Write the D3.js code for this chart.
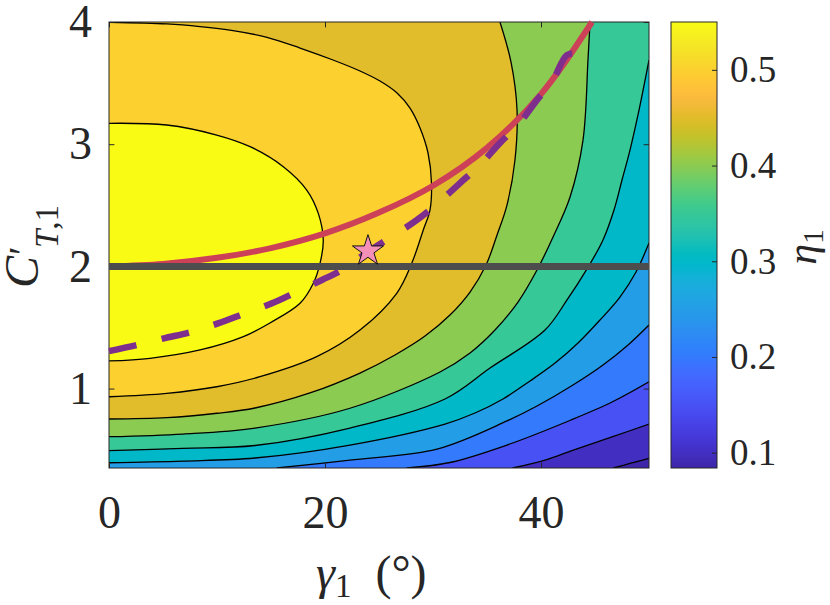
<!DOCTYPE html>
<html>
<head>
<meta charset="utf-8">
<script src="https://cdn.jsdelivr.net/npm/d3@7"></script>
<style>
  html, body { margin: 0; padding: 0; background: #fff; }
</style>
</head>
<body>
<div id="chart"></div>
<script>
// ---- values ----
const gammaDomain = [0, 50];         // γ1 (deg)
const ctDomain    = [0.35, 4];       // C'_T,1
const etaLimits   = [0.084, 0.55];   // colour limits of η1
const gammaTicks  = [0, 20, 40];
const ctTicks     = [1, 2, 3, 4];
const etaTicks    = [0.1, 0.2, 0.3, 0.4, 0.5];

// contour levels of η1 and the traced iso-lines, [γ1, C'] pairs,
// each one starting at its lower-left end
const levels = [0.10, 0.15, 0.20, 0.25, 0.30, 0.35, 0.40, 0.45, 0.50, 0.55];

const line010 = [[46.69, 0.35], [48.24, 0.387], [50, 0.429]];
const line015 = [[37.36, 0.35], [40.37, 0.415], [42.99, 0.497], [46.57, 0.604], [50, 0.710]];
const line020 = [[27.56, 0.35], [31.57, 0.395], [36.85, 0.538], [42.78, 0.743], [46.57, 0.890], [50, 1.056]];
const line025 = [[15.53, 0.35], [22.31, 0.415], [30.37, 0.505], [36.85, 0.735], [39.63, 0.857],
                 [42.96, 1.029], [45.74, 1.193], [48.06, 1.357], [50, 1.520]];
const line030 = [[0, 0.393], [6.85, 0.407], [13.52, 0.432], [22.31, 0.538], [31.11, 0.710], [33.89, 0.800],
                 [36.48, 0.915], [38.98, 1.062], [41.30, 1.209], [43.43, 1.373], [45.46, 1.561],
                 [47.31, 1.749], [48.80, 1.954], [50, 2.191]];
const line035 = [[0, 0.492], [6.85, 0.511], [13.52, 0.534], [22.31, 0.677], [31.11, 0.915], [35.28, 1.168],
                 [40.37, 1.479], [42.41, 1.725], [44.26, 1.979], [45.74, 2.216], [46.76, 2.461],
                 [47.50, 2.707], [48.24, 2.952], [48.98, 3.239], [50, 3.689]];
const line040 = [[0, 0.606], [6.85, 0.628], [13.52, 0.677], [22.31, 0.839], [30.65, 1.136], [33.43, 1.291],
                 [35.74, 1.479], [37.87, 1.708], [39.63, 1.970], [41.20, 2.257], [42.69, 2.568],
                 [43.89, 3.034], [44.35, 3.689], [44.54, 4]];
const line045 = [[0, 0.751], [5.37, 0.762], [10.0, 0.798], [13.52, 0.841], [18.61, 0.964], [23.24, 1.127],
                 [26.48, 1.275], [29.26, 1.430], [31.57, 1.602], [33.43, 1.790], [34.91, 2.011],
                 [35.93, 2.257], [36.85, 2.502], [37.59, 2.871], [37.78, 3.280], [37.22, 3.673], [36.20, 4]];
const line050 = [[0, 0.933], [5.34, 0.961], [9.97, 1.015], [13.98, 1.097], [19.23, 1.261], [23.24, 1.479],
                 [26.64, 1.780], [28.03, 2.025], [29.10, 2.298], [29.72, 2.461], [29.86, 2.682],
                 [29.54, 2.928], [28.80, 3.133], [27.87, 3.296], [26.67, 3.419], [25.09, 3.517],
                 [23.24, 3.599], [20.74, 3.689], [17.69, 3.787], [14.63, 3.875], [11.48, 3.929],
                 [8.43, 3.962], [5.37, 3.984], [0, 3.998]];
const line055 = [[0, 1.226], [3.80, 1.248], [8.43, 1.316], [12.44, 1.425], [14.9, 1.537], [17.69, 1.698],
                 [18.92, 1.862], [19.54, 2.025], [19.84, 2.216], [19.38, 2.434], [18.31, 2.625],
                 [16.14, 2.816], [13.06, 2.980], [9.97, 3.075], [5.34, 3.157], [0, 3.171]];
const contourLines = [line010, line015, line020, line025, line030, line035, line040, line045, line050, line055];

// overlaid curves
const ctConst = 2;
const redCurve = [[0, 2.0], [5, 2.02], [10, 2.07], [15, 2.15], [20, 2.27], [25, 2.44], [30, 2.66],
                  [35, 2.97], [40, 3.41], [44.72, 4.0]];
const dashedCurve = [[0, 1.307], [2.59, 1.357], [5.09, 1.411], [7.69, 1.465], [10.09, 1.534], [12.59, 1.616],
                     [15.09, 1.698], [17.41, 1.793], [19.72, 1.889], [21.57, 1.970], [23.98, 2.118],
                     [28.52, 2.380], [30.46, 2.519], [32.50, 2.682], [34.35, 2.830], [36.20, 3.010],
                     [37.87, 3.157], [39.63, 3.362], [41.11, 3.525], [42.41, 3.730], [43.61, 3.754],
                     [43.52, 3.869]];
const starPoint = [23.98, 2.126];

// parula colormap (64 entries)
const parula = [
  [0.2422,0.1504,0.6603],[0.2504,0.1650,0.7076],[0.2578,0.1818,0.7511],[0.2647,0.1978,0.7952],
  [0.2706,0.2147,0.8364],[0.2751,0.2342,0.8710],[0.2783,0.2559,0.8991],[0.2803,0.2782,0.9221],
  [0.2813,0.3006,0.9414],[0.2810,0.3228,0.9579],[0.2795,0.3447,0.9717],[0.2760,0.3667,0.9829],
  [0.2699,0.3892,0.9906],[0.2602,0.4123,0.9952],[0.2440,0.4358,0.9988],[0.2206,0.4603,0.9973],
  [0.1963,0.4847,0.9892],[0.1834,0.5074,0.9798],[0.1786,0.5289,0.9682],[0.1764,0.5499,0.9520],
  [0.1687,0.5703,0.9359],[0.1540,0.5902,0.9218],[0.1460,0.6091,0.9079],[0.1380,0.6276,0.8973],
  [0.1248,0.6459,0.8883],[0.1113,0.6635,0.8763],[0.0952,0.6798,0.8598],[0.0689,0.6948,0.8394],
  [0.0297,0.7082,0.8163],[0.0036,0.7203,0.7917],[0.0067,0.7312,0.7660],[0.0433,0.7411,0.7394],
  [0.0964,0.7500,0.7120],[0.1408,0.7584,0.6842],[0.1717,0.7670,0.6554],[0.1938,0.7758,0.6251],
  [0.2161,0.7843,0.5923],[0.2470,0.7918,0.5567],[0.2906,0.7973,0.5188],[0.3406,0.8008,0.4789],
  [0.3909,0.8029,0.4354],[0.4456,0.8024,0.3909],[0.5044,0.7993,0.3480],[0.5616,0.7942,0.3045],
  [0.6174,0.7876,0.2612],[0.6720,0.7793,0.2227],[0.7242,0.7698,0.1910],[0.7738,0.7598,0.1646],
  [0.8203,0.7498,0.1535],[0.8634,0.7406,0.1596],[0.9035,0.7330,0.1774],[0.9393,0.7288,0.2100],
  [0.9728,0.7298,0.2394],[0.9956,0.7434,0.2371],[0.9970,0.7659,0.2199],[0.9952,0.7893,0.2028],
  [0.9892,0.8136,0.1885],[0.9786,0.8386,0.1766],[0.9676,0.8639,0.1643],[0.9610,0.8890,0.1537],
  [0.9597,0.9135,0.1423],[0.9628,0.9373,0.1265],[0.9691,0.9606,0.1064],[0.9769,0.9839,0.0805]
];

// ---- layout ----
const width = 830, height = 605;
const plot = { left: 109, right: 649, top: 22, bottom: 468 };
const cbar = { left: 671, right: 717 };
const ink = "#262626";
const face = "Liberation Serif";

const svg = d3.select("#chart").append("svg")
  .attr("width", width).attr("height", height)
  .attr("viewBox", `0 0 ${width} ${height}`);

const x = d3.scaleLinear().domain(gammaDomain).range([plot.left, plot.right]);
const y = d3.scaleLinear().domain(ctDomain).range([plot.bottom, plot.top]);
const cy = d3.scaleLinear().domain(etaLimits).range([plot.bottom, plot.top]);

const cmap = d3.scaleLinear()
  .domain(parula.map((_, i) => i / (parula.length - 1)))
  .range(parula.map(c => d3.rgb(c[0] * 255, c[1] * 255, c[2] * 255).formatHex()))
  .interpolate(d3.interpolateRgb);
const etaT = d3.scaleLinear().domain(etaLimits).range([0, 1]).clamp(true);

const defs = svg.append("defs");
defs.append("clipPath").attr("id", "plotClip").append("rect")
  .attr("x", plot.left).attr("y", plot.top)
  .attr("width", plot.right - plot.left).attr("height", plot.bottom - plot.top);

const grad = defs.append("linearGradient").attr("id", "parulaGrad")
  .attr("x1", 0).attr("y1", 1).attr("x2", 0).attr("y2", 0);
parula.forEach((c, i) => grad.append("stop")
  .attr("offset", i / (parula.length - 1))
  .attr("stop-color", d3.rgb(c[0] * 255, c[1] * 255, c[2] * 255).formatHex()));

// ---- filled contours ----
const lineGen = d3.line()
  .x(d => x(d[0])).y(d => y(d[1]))
  .curve(d3.curveCatmullRom.alpha(0.5));

// position along the box border, counter-clockwise from the bottom-left corner
function perim([g, c]) {
  const [g0, g1] = gammaDomain, [c0, c1] = ctDomain, eps = 1e-6;
  if (Math.abs(c - c0) < eps) return (g - g0) / (g1 - g0);
  if (Math.abs(g - g1) < eps) return 1 + (c - c0) / (c1 - c0);
  if (Math.abs(c - c1) < eps) return 2 + (g1 - g) / (g1 - g0);
  return 3 + (c1 - c) / (c1 - c0);
}
function corner(k) {
  const [g0, g1] = gammaDomain, [c0, c1] = ctDomain;
  return [[g0, c0], [g1, c0], [g1, c1], [g0, c1]][k % 4];
}
// high side is on the left of each traced line, so close it walking ccw
function regionPath(pts) {
  const pe = perim(pts[pts.length - 1]);
  let ps = perim(pts[0]);
  if (ps <= pe) ps += 4;
  let d = lineGen(pts);
  for (let k = Math.floor(pe) + 1; k < ps; k++) {
    const c = corner(k);
    d += `L${x(c[0])},${y(c[1])}`;
  }
  return d + "Z";
}

const field = svg.append("g").attr("clip-path", "url(#plotClip)");
field.append("rect")
  .attr("x", plot.left).attr("y", plot.top)
  .attr("width", plot.right - plot.left).attr("height", plot.bottom - plot.top)
  .attr("fill", cmap(0));

field.selectAll("path.band")
  .data(contourLines)
  .join("path")
  .attr("class", "band")
  .attr("d", regionPath)
  .attr("fill", (d, i) => cmap(etaT(levels[i])))
  .attr("stroke", "none");

field.selectAll("path.iso")
  .data(contourLines)
  .join("path")
  .attr("class", "iso")
  .attr("d", lineGen)
  .attr("fill", "none")
  .attr("stroke", "#000")
  .attr("stroke-width", 1.3);

// ---- axes ----
function styleAxis(g, size) {
  g.attr("font-family", face).attr("font-size", size);
  g.select(".domain").remove();
  g.selectAll(".tick line").attr("stroke", ink).attr("stroke-width", 1);
  g.selectAll(".tick text")
    .attr("font-size", size)
    .attr("font-family", face)
    .style("font-family", `"${face}"`)
    .attr("fill", ink);
}

svg.append("g").attr("transform", `translate(0,${plot.bottom})`)
  .call(d3.axisBottom(x).tickValues(gammaTicks).tickSize(-5.4).tickPadding(27).tickFormat(d3.format("d")))
  .call(g => styleAxis(g, 46));
svg.append("g").attr("transform", `translate(0,${plot.top})`)
  .call(d3.axisTop(x).tickValues(gammaTicks).tickSize(-5.4).tickFormat(() => ""))
  .call(g => styleAxis(g, 46));
svg.append("g").attr("transform", `translate(${plot.left},0)`)
  .call(d3.axisLeft(y).tickValues(ctTicks).tickSize(-5.4).tickPadding(17).tickFormat(d3.format("d")))
  .call(g => styleAxis(g, 46));
svg.append("g").attr("transform", `translate(${plot.right},0)`)
  .call(d3.axisRight(y).tickValues(ctTicks).tickSize(-5.4).tickFormat(() => ""))
  .call(g => styleAxis(g, 46));

svg.append("rect")
  .attr("x", plot.left).attr("y", plot.top)
  .attr("width", plot.right - plot.left).attr("height", plot.bottom - plot.top)
  .attr("fill", "none").attr("stroke", ink).attr("stroke-width", 1);

// ---- overlays ----
svg.append("path")
  .attr("d", lineGen(redCurve))
  .attr("fill", "none").attr("stroke", "#cc4158").attr("stroke-width", 6);

svg.append("line")
  .attr("x1", x(gammaDomain[0])).attr("x2", x(gammaDomain[1]))
  .attr("y1", y(ctConst)).attr("y2", y(ctConst))
  .attr("stroke", "#4d4d4d").attr("stroke-width", 7);

svg.append("path")
  .attr("d", lineGen(dashedCurve))
  .attr("fill", "none").attr("stroke", "#7e2f8e").attr("stroke-width", 6.5)
  .attr("stroke-dasharray", "28 26");

svg.append("path")
  .attr("d", d3.symbol(d3.symbolStar, 300)())
  .attr("transform", `translate(${x(starPoint[0])},${y(starPoint[1])})`)
  .attr("fill", "#f48fb8").attr("stroke", "#111").attr("stroke-width", 1);

// ---- colour bar ----
svg.append("rect")
  .attr("x", cbar.left).attr("y", plot.top)
  .attr("width", cbar.right - cbar.left).attr("height", plot.bottom - plot.top)
  .attr("fill", "url(#parulaGrad)");
svg.append("g").attr("transform", `translate(${cbar.right},0)`)
  .call(d3.axisRight(cy).tickValues(etaTicks).tickSize(-5).tickPadding(13).tickFormat(d3.format(".1f")))
  .call(g => styleAxis(g, 37));
svg.append("rect")
  .attr("x", cbar.left).attr("y", plot.top)
  .attr("width", cbar.right - cbar.left).attr("height", plot.bottom - plot.top)
  .attr("fill", "none").attr("stroke", ink).attr("stroke-width", 1);

// ---- labels ----
function label(sel, size) {
  return sel.attr("font-size", size).attr("font-family", face)
    .style("font-family", `"${face}"`).attr("fill", ink);
}

const xl = label(svg.append("text").attr("x", 316).attr("y", 589), 48);
xl.append("tspan").attr("font-style", "italic").text("γ");
xl.append("tspan").attr("font-size", 33).attr("dy", 8).text("1");
xl.append("tspan").attr("dy", -8).attr("dx", 24).text("(°)");

const yl = svg.append("g").attr("transform", "translate(38,288) rotate(-90)");
label(yl.append("text").attr("x", 0).attr("y", 0), 48).attr("font-style", "italic").text("C");
label(yl.append("text").attr("x", 33).attr("y", -2), 40).text("′");
const ysub = label(yl.append("text").attr("x", 40).attr("y", 20), 33);
ysub.append("tspan").attr("font-style", "italic").text("T");
ysub.append("tspan").text(",1");

const cl = label(svg.append("text")
  .attr("transform", "translate(816,247) rotate(-90)")
  .attr("text-anchor", "middle"), 42);
cl.append("tspan").attr("font-style", "italic").text("η");
cl.append("tspan").attr("font-size", 29).attr("dy", 7).text("1");
</script>
</body>
</html>
